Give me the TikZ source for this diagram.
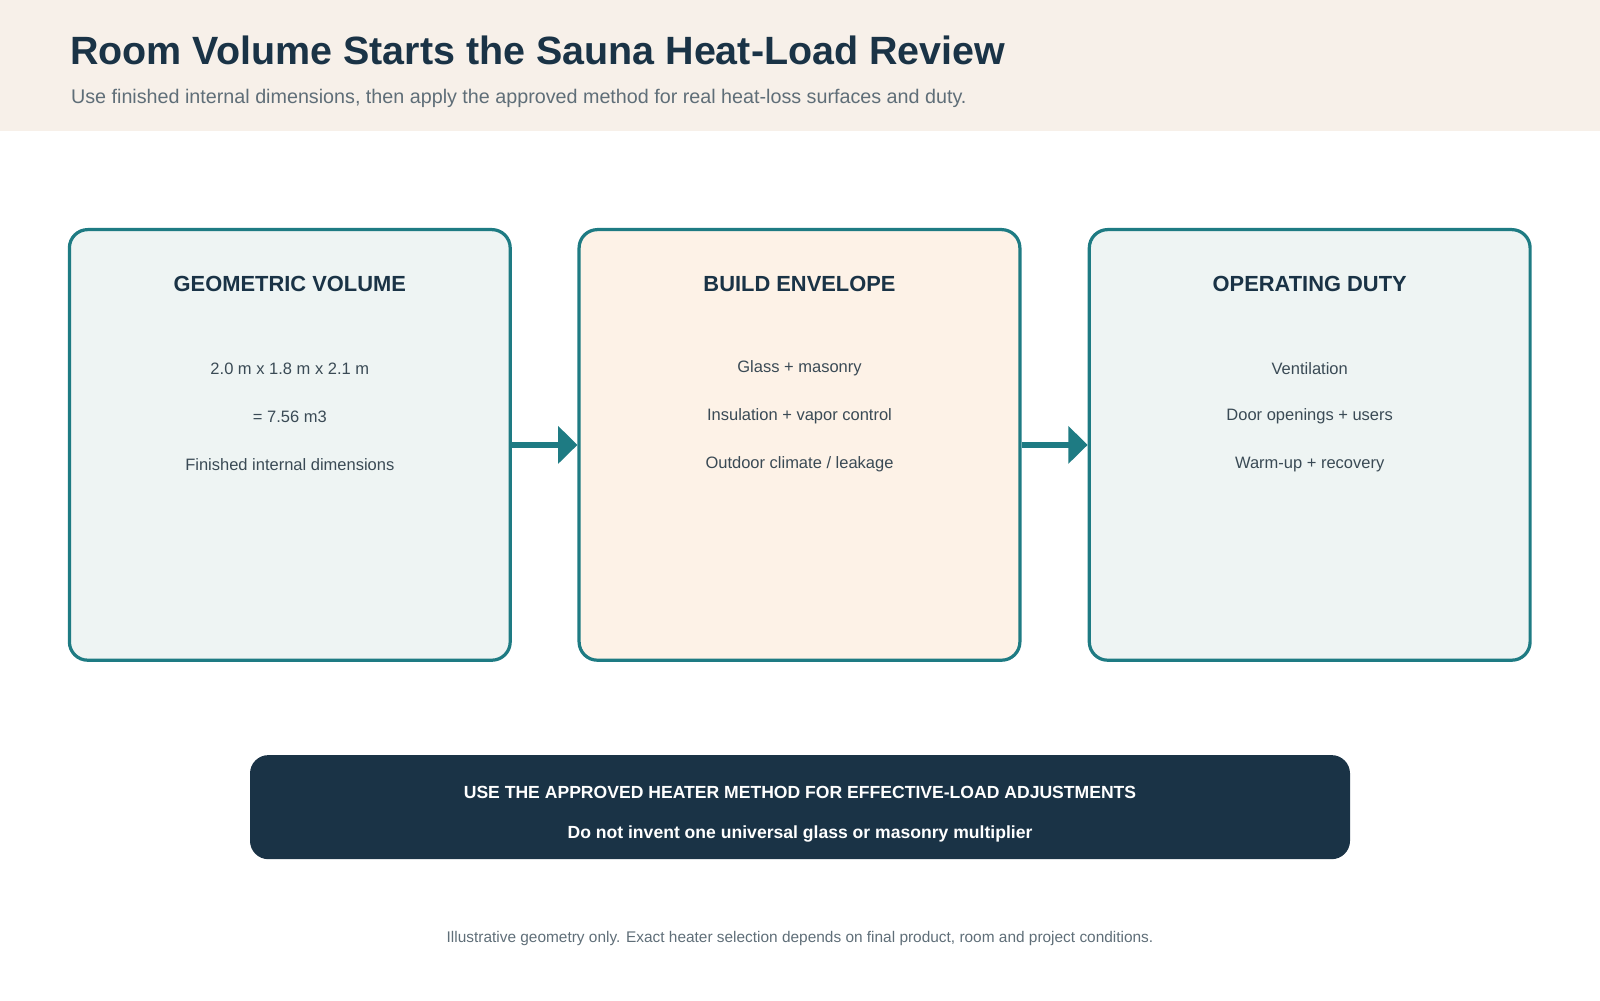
\documentclass[tikz,border=0pt]{standalone}
\usepackage{fontspec}
\setmainfont{Liberation Sans}
\usetikzlibrary{arrows.meta,positioning}
\definecolor{teal}{HTML}{1E7B83}
\definecolor{navy}{HTML}{1A3346}
\definecolor{band}{HTML}{F7F0E9}
\definecolor{cool}{HTML}{EEF4F3}
\definecolor{warm}{HTML}{FDF2E7}
\definecolor{ink}{HTML}{3A4A55}
\definecolor{grey}{HTML}{5F6E78}
\tikzset{
  stage/.style={draw=teal, line width=0.9pt, rounded corners=0.18cm,
    minimum width=4.32cm, minimum height=4.22cm, inner sep=0pt},
  head/.style={font=\fontsize{6.1pt}{7pt}\selectfont\bfseries, text=navy},
  item/.style={font=\fontsize{4.6pt}{5pt}\selectfont, text=ink},
  flow/.style={teal, line width=1.7pt, -{Triangle[length=0.19cm,width=0.36cm]}}
}
\begin{document}
\begin{tikzpicture}
  \useasboundingbox (0,0) rectangle (15.68,9.8);
  \fill[band] (0,8.52) rectangle (15.68,9.8);
  \node[anchor=base west, font=\fontsize{11pt}{12pt}\selectfont\bfseries, text=navy, inner sep=0pt]
    (title) at (0.68,9.17) {Room Volume Starts the Sauna Heat-Load Review};
  \node[anchor=base west, font=\fontsize{5.5pt}{6pt}\selectfont, text=grey, inner sep=0pt]
    (sub) at (0.69,8.79) {Use finished internal dimensions, then apply the approved method for real heat-loss surfaces and duty.};
  % the three stages
  \node[stage, fill=cool] (geo) at (2.84,5.44) {};
  \node[stage, fill=warm] (env) at (7.835,5.44) {};
  \node[stage, fill=cool] (duty) at (12.835,5.44) {};
  \node[head] at (2.84,7.02) {GEOMETRIC VOLUME};
  \node[head] at (7.835,7.02) {BUILD ENVELOPE};
  \node[head] at (12.835,7.02) {OPERATING DUTY};
  \node[item] at (2.84,6.19) {2.0 m x 1.8 m x 2.1 m};
  \node[item] at (2.84,5.72) {= 7.56 m3};
  \node[item] at (2.84,5.25) {Finished internal dimensions};
  \node[item] at (7.835,6.19) {Glass + masonry};
  \node[item] at (7.835,5.72) {Insulation + vapor control};
  \node[item] at (7.835,5.25) {Outdoor climate / leakage};
  \node[item] at (12.835,6.19) {Ventilation};
  \node[item] at (12.835,5.72) {Door openings + users};
  \node[item] at (12.835,5.25) {Warm-up + recovery};
  \draw[flow] (geo.east |- 0,5.44) -- (env.west |- 0,5.44);
  \draw[flow] (env.east |- 0,5.44) -- (duty.west |- 0,5.44);
  % note
  \node[fill=navy, rounded corners=0.18cm, minimum width=10.78cm, minimum height=1.02cm]
    (note) at (7.84,1.89) {};
  \node[font=\fontsize{4.9pt}{5.5pt}\selectfont\bfseries, text=white] at (7.84,2.03)
    {USE THE APPROVED HEATER METHOD FOR EFFECTIVE-LOAD ADJUSTMENTS};
  \node[font=\fontsize{4.9pt}{5.5pt}\selectfont\bfseries, text=white] at (7.84,1.63)
    {Do not invent one universal glass or masonry multiplier};
  \node[font=\fontsize{4.3pt}{5pt}\selectfont, text=grey] (foot) at (7.84,0.6)
    {Illustrative geometry only. Exact heater selection depends on final product, room and project conditions.};
\end{tikzpicture}
\end{document}
